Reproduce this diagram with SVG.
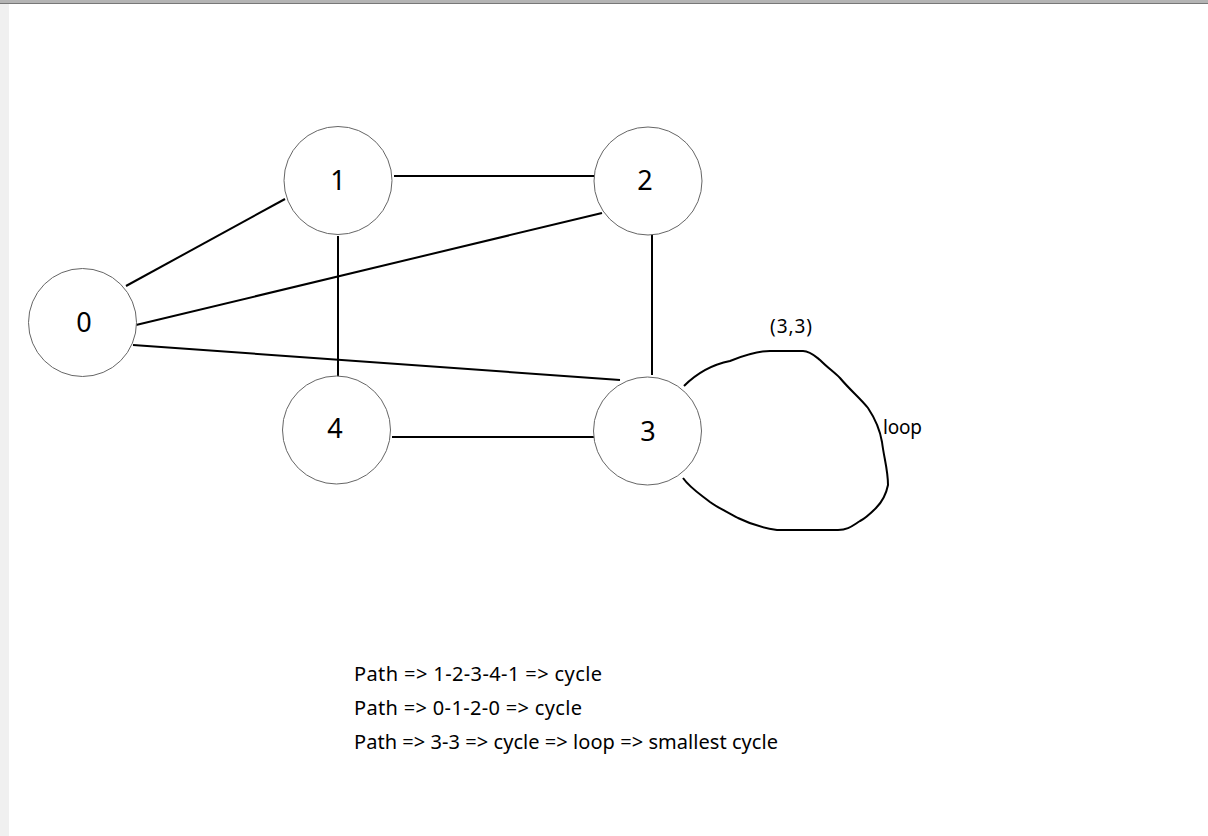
<svg xmlns="http://www.w3.org/2000/svg" width="1208" height="836" viewBox="0 0 1208 836">
<style>
.node circle{fill:#fff;stroke:#666;stroke-width:1}
.node text{font-family:"Noto Sans","Open Sans",sans-serif;font-size:27px;fill:#000;text-anchor:middle}
.edges path,.edges line{stroke:#000;stroke-width:2;fill:none}
.lbl{font-family:"Noto Sans","Open Sans",sans-serif;font-size:19px;fill:#000}
.note{font-family:"Noto Sans","Open Sans",sans-serif;font-size:20px;fill:#000}
</style>
<rect width="1208" height="836" fill="#fff"/>
<rect x="0" y="0" width="1208" height="3" fill="#b4b4b4"/>
<rect x="0" y="3" width="1208" height="1" fill="#777"/>
<rect x="0" y="4" width="9" height="832" fill="#f0f0f0"/>
<g class="edges">
<line x1="126" y1="286" x2="285" y2="199"/>
<line x1="136" y1="325" x2="602" y2="213"/>
<line x1="133" y1="345" x2="620" y2="380"/>
<line x1="394" y1="176" x2="594" y2="176"/>
<line x1="338" y1="236" x2="338" y2="378"/>
<line x1="652" y1="232" x2="652" y2="375"/>
<line x1="392" y1="437" x2="594" y2="437"/>
<path d="M684,386 C700,370 715,364 730,361 C745,355 758,351 770,351 L803,351 C810,351 815,356 820,360 C828,368 834,372 840,378 C850,390 860,398 868,408 C876,420 880,430 882,442 C884,458 888,470 888,485 C886,495 882,502 876,508 C870,514 866,518 860,521 C852,526 848,530 838,530 L777,530 C764,528 750,524 738,518 C728,512 718,508 710,502 C700,494 690,488 683,478"/>
</g>
<g id="node0" class="node"><circle cx="82.5" cy="322.5" r="54"/><text x="84" y="332">0</text></g>
<g id="node1" class="node"><circle cx="338" cy="180.5" r="54"/><text x="338" y="190">1</text></g>
<g id="node2" class="node"><circle cx="648" cy="181" r="54"/><text x="645" y="190">2</text></g>
<g id="node3" class="node"><circle cx="647.5" cy="431" r="54"/><text x="648" y="441">3</text></g>
<g id="node4" class="node"><circle cx="336.5" cy="430" r="54"/><text x="335" y="438">4</text></g>
<text class="lbl" x="770" y="333" textLength="42">(3,3)</text>
<text class="lbl" x="883" y="434" textLength="39">loop</text>
<text class="note" x="354" y="681" textLength="248">Path =&gt; 1-2-3-4-1 =&gt; cycle</text>
<text class="note" x="354" y="715" textLength="228">Path =&gt; 0-1-2-0 =&gt; cycle</text>
<text class="note" x="354" y="749" textLength="424">Path =&gt; 3-3 =&gt; cycle =&gt; loop =&gt; smallest cycle</text>
</svg>
